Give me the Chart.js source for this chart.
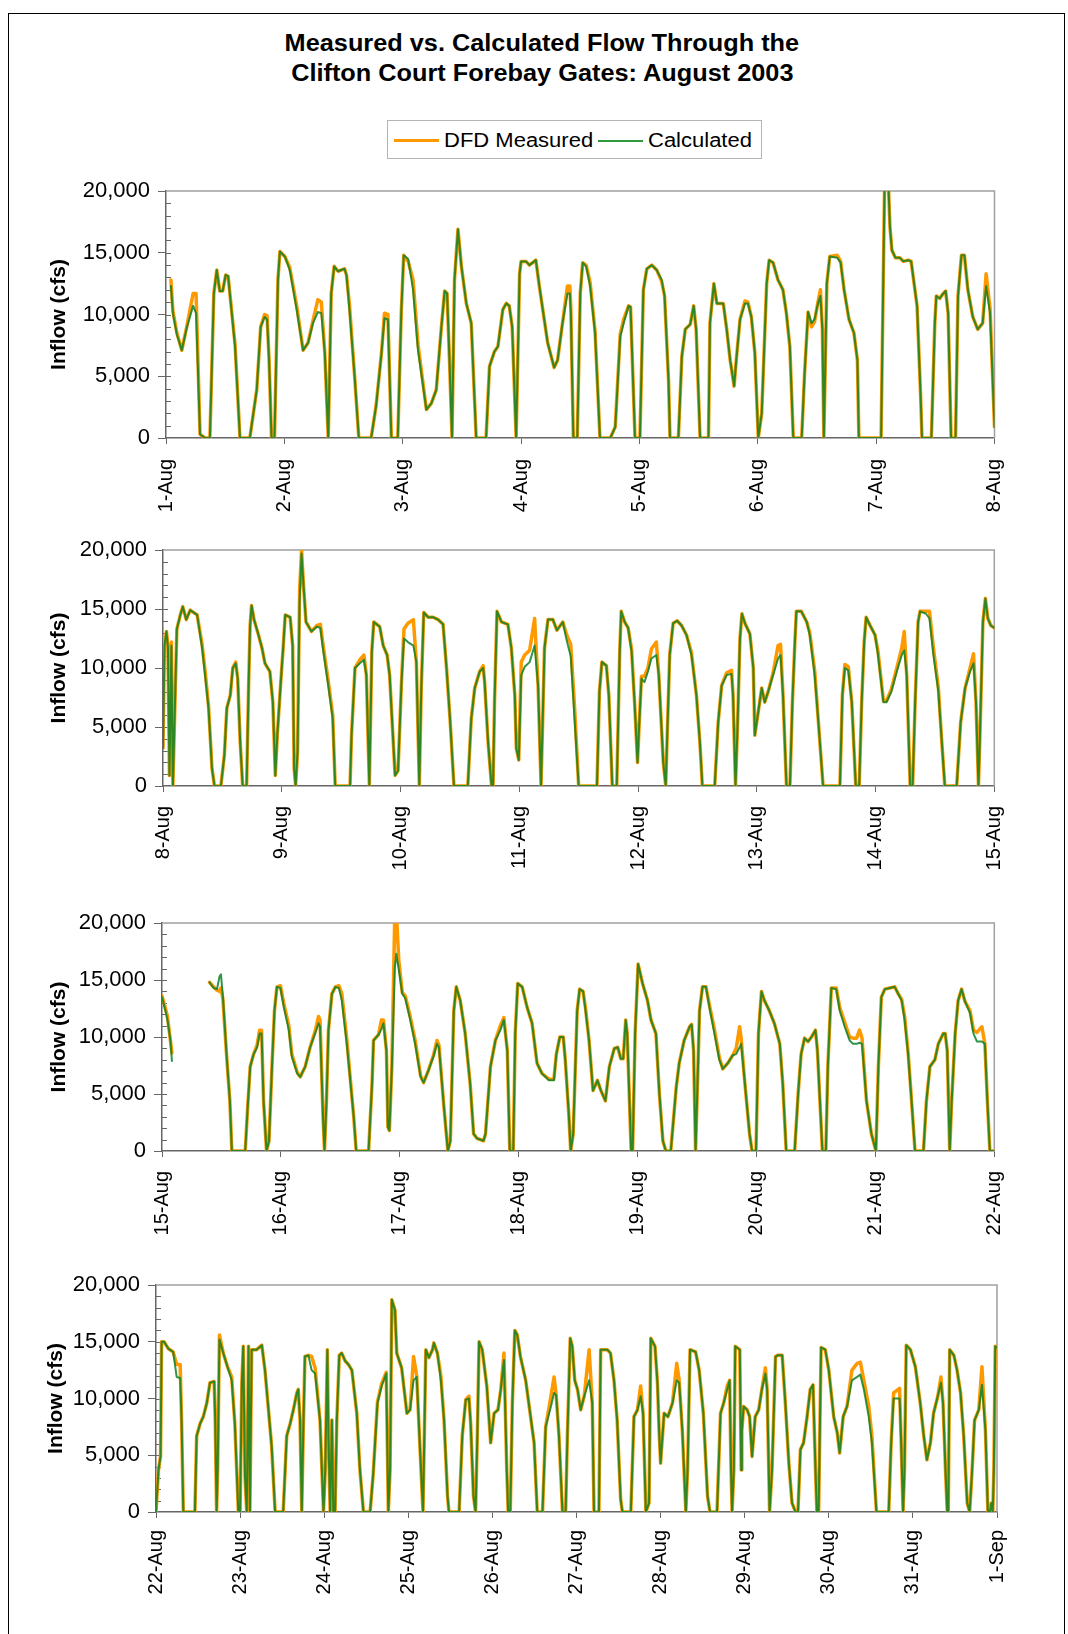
<!DOCTYPE html>
<html>
<head>
<meta charset="utf-8">
<script src="https://cdn.jsdelivr.net/npm/chart.js@4.4.0/dist/chart.umd.min.js"></script>
<style>
  html, body { margin: 0; padding: 0; background: #fff; }
  body { width: 1068px; height: 1634px; position: relative; overflow: hidden; font-family: "Liberation Sans", Arial, sans-serif; }
  .frame { position: absolute; left: 8px; top: 13px; width: 1055px; height: 1640px; border: 1px solid #000; }
  .title { position: absolute; left: 0; width: 1084px; top: 28px; text-align: center; font-weight: bold; font-size: 23px; line-height: 30px; color: #000; }
  .title span { display: inline-block; transform: scaleX(1.1); transform-origin: center; }
  .legend { position: absolute; left: 387px; top: 120px; width: 373px; height: 37px; border: 1px solid #b4b4b4; }
  .legend .sw { position: absolute; top: 18px; height: 3px; }
  .legend .tx { position: absolute; top: 7px; font-size: 20px; line-height: 24px; color: #000; transform: scaleX(1.1); transform-origin: left center; white-space: nowrap; }
  .panel { position: absolute; left: 0; }
</style>
</head>
<body>
<div class="frame"></div>
<div class="title"><span>Measured vs. Calculated Flow Through the</span><br><span>Clifton Court Forebay Gates: August 2003</span></div>
<div class="legend">
  <span class="sw" style="left:6px;width:45px;background:#ff9900"></span><span class="tx" style="left:56px">DFD Measured</span>
  <span class="sw" style="left:210px;width:45px;height:2px;top:19px;background:#2e9a3e"></span><span class="tx" style="left:260px">Calculated</span>
</div>
<canvas id="p1" class="panel" width="1068" height="340" style="top:180px"></canvas>
<canvas id="p2" class="panel" width="1068" height="340" style="top:535px"></canvas>
<canvas id="p3" class="panel" width="1068" height="340" style="top:905px"></canvas>
<canvas id="p4" class="panel" width="1068" height="340" style="top:1270px"></canvas>
<script>
// ---- data: hours after midnight of the first day of each panel, flow in cfs ----
const days1 = ['1-Aug','2-Aug','3-Aug','4-Aug','5-Aug','6-Aug','7-Aug','8-Aug'];
const days2 = ['8-Aug','9-Aug','10-Aug','11-Aug','12-Aug','13-Aug','14-Aug','15-Aug'];
const days3 = ['15-Aug','16-Aug','17-Aug','18-Aug','19-Aug','20-Aug','21-Aug','22-Aug'];
const days4 = ['22-Aug','23-Aug','24-Aug','25-Aug','26-Aug','27-Aug','28-Aug','29-Aug','30-Aug','31-Aug','1-Sep'];

const p1Hours = [1,1.4,2.2,3.2,4.2,5.5,6.1,6.9,7.9,8.9,
  9.7,10.3,10.9,11.5,12.1,12.6,14,15,17,18.4,
  19.2,20,20.5,20.9,21.4,22,22.7,23.1,24.1,25.1,
  26.5,27.8,28.8,29.8,30.8,31.5,32.2,32.9,33.5,34.1,
  34.9,35.5,36.2,36.6,37.2,38.3,39.1,41.6,42.6,43.7,
  44.3,45,45.7,47,47.7,48.2,49.1,50.1,51.1,52.8,
  53.8,54.8,55.8,56.5,57,57.5,58,58.5,59.2,59.9,
  60.9,61.9,62.9,64.9,65.6,66.6,67.3,68.3,69,69.6,
  70.2,71,71.7,72,73,73.7,75,75.7,77.4,78.7,
  79.4,80.4,81.4,81.9,82.1,82.6,83.4,84,84.5,85.2,
  86,87,88,90.1,91.1,92.1,92.8,93.8,94.2,95.1,
  96.1,96.8,97.5,98.5,99.5,100.5,101.1,101.9,102.2,103.9,
  104.6,105.3,106.3,107,107.5,108.3,110,110.3,111.1,111.7,
  113,113.7,114.4,115.2,115.7,116.4,117.4,118,118.7,119.4,
  120.1,120.8,121.8,122.3,123.1,124.1,125.1,125.8,126.5,127.2,
  128.9,129.5,130.2,130.9,131.5,132.2,132.7,133.1,133.4,134,
  134.6,136.1,136.8,137.5,138.5,139.5,140.2,140.5,145,145.8,
  146.4,146.8,147.2,147.9,148.8,149.5,150.5,151.1,152.3,153,
  153.3,155.2,155.9,156.2,156.9,157.4,158.1,158.6,159.2,160.1,
  160.6,161.3,161.9,162.6,163.6,164.6,165.6,166.3,167.1,168];
const p1Calc = [12300,10100,8400,7100,8900,10700,10100,300,0,0,
  11700,13600,11900,11900,13200,13100,7400,0,0,3900,
  9000,9800,9600,6300,0,0,12800,15100,14700,13600,
  10400,7100,7700,9300,10200,10100,6900,0,11700,13900,
  13500,13600,13700,13200,10400,4700,0,0,2600,6900,
  9700,9600,0,0,10100,14800,14500,12000,7100,2300,
  2800,3900,8800,11900,11700,6100,0,12800,16900,13900,
  10900,9300,0,0,5800,7000,7400,10400,10900,10700,
  9000,0,13300,14300,14300,14000,14400,12300,7700,5700,
  6300,9300,11700,11700,10100,0,0,11700,14200,13900,
  12300,8500,0,0,900,8200,9300,10700,10600,0,
  0,12000,13700,14000,13600,12800,11500,4700,0,0,
  6600,8800,9200,10700,8800,0,0,9300,12500,10900,
  10900,8800,6300,4200,6600,9600,10900,10900,9800,6900,
  0,2000,12500,14400,14200,12800,12000,10100,7400,0,
  0,5300,10200,9300,9600,10900,11500,8800,0,12500,
  14700,14600,14200,12000,9600,8500,6300,0,0,23000,
  21500,17100,15200,14600,14600,14300,14400,14300,10700,3600,
  0,0,9300,11500,11300,11600,11900,10100,0,0,
  11500,14800,14800,12000,9800,8800,9300,12300,10100,900];
const p1Meas = [12800,10300,8500,7100,9000,11700,11700,300,0,0,
  11700,13600,11900,11900,13200,13100,7600,0,0,3900,
  9000,10000,9900,6300,0,0,12800,15100,14700,13800,
  10700,7100,7700,9500,11200,11000,6900,0,11700,13900,
  13500,13600,13700,13200,10800,4700,0,0,2600,6900,
  10100,10000,0,0,10100,14800,14300,12800,7600,2300,
  2800,3900,8800,11900,11700,6100,0,12800,16900,13900,
  10900,9300,0,0,5800,7000,7400,10400,10900,10700,
  9000,0,13300,14300,14300,14000,14400,12300,7700,5700,
  6300,9300,12300,12300,10400,0,0,11700,14200,14000,
  12600,8700,0,0,900,8400,9600,10700,10600,0,
  0,12000,13700,14000,13600,12700,11500,4700,0,0,
  6600,8800,9200,10700,8800,0,0,9300,12500,10900,
  10900,8800,6300,4200,6600,9600,11100,11000,9800,6900,
  0,2000,12500,14400,14200,12800,12000,10100,7400,0,
  0,5300,10200,9000,9400,11000,12000,8800,0,12500,
  14700,14800,14300,12000,9600,8500,6300,0,0,23000,
  21500,17100,15200,14600,14600,14300,14400,14300,10700,3600,
  0,0,9300,11500,11300,11600,11900,10100,0,0,
  11500,14800,14800,12000,9800,8800,9300,13300,10500,900];

const p2Hours = [0,0.3,0.7,1,1.3,1.7,2,2.8,3.5,4,
  4.7,5.5,6.9,7.9,8.5,9.2,9.9,10.4,11.7,12.4,
  12.9,13.6,14.1,14.7,15.1,15.6,16.1,16.9,17.3,17.6,
  17.9,18.4,19.3,20,20.6,21.6,22.2,22.7,23.1,23.8,
  24.3,24.7,25.7,26.2,26.5,26.8,27.2,27.6,28,28.4,
  28.9,30,31.1,31.8,32.4,33.4,34.3,34.8,37.8,38.1,
  38.8,39.8,40.6,41.1,41.7,42.2,42.6,43.8,44.5,45.3,
  45.8,46.9,47.5,48.2,48.7,49.5,50.6,51.2,51.8,52.2,
  52.7,53.6,54.6,55.6,56.6,57.3,58,58.8,61.6,62.3,
  63,64,64.7,65,65.7,66.4,66.7,67,67.5,68.4,
  69.7,70.4,71.1,71.4,71.9,72.4,73.1,74.1,75.1,75.8,
  76.4,77.1,77.8,78.8,79.6,80.8,81.6,82.4,83.2,84,
  87.7,88.2,88.7,89.6,90.1,90.8,91.7,92.3,92.6,93.3,
  94,94.7,95.3,95.9,96.2,96.7,97.3,98,98.7,99.7,
  100.2,101.1,101.6,101.9,102.4,103.1,103.9,104.8,105.8,106.8,
  107.8,108.5,109,111.5,112.2,112.9,113.9,114.9,115.2,115.7,
  116.1,116.6,117,117.6,118.6,119.3,119.6,120.3,121,121.3,
  121.6,122.3,123.3,124.3,124.8,125.3,126,126.7,127.2,127.7,
  128,129,130.1,130.7,131.7,132.4,133.4,136.8,137.3,137.8,
  138.5,139.2,140,140.7,141.2,141.7,142.1,142.9,143.9,144.5,
  145.6,146.2,147.2,148.3,149.3,149.8,150.3,151,151.5,152,
  152.6,153,154.2,154.9,155.7,156.7,157.4,158,160.4,161.2,
  162.1,163.1,163.8,164.3,164.8,165.1,165.7,166.2,166.7,167.3,168];
const p2Calc = [3200,11900,13100,11700,900,11900,0,13300,14500,15200,
  14100,14900,14500,11700,9400,6600,1500,0,0,2600,
  6600,7700,10000,10400,9100,3700,0,0,8500,13600,
  15300,14100,12800,11700,10400,9700,7100,900,4300,8800,
  11800,14500,14300,11900,1500,0,2900,15600,19700,17000,
  13900,13100,13500,13400,11400,8500,5700,0,0,4300,
  10000,10400,10700,9400,0,11400,13900,13500,11900,11100,
  9400,900,1300,8800,12500,12200,11900,10500,0,8300,
  14700,14300,14300,14100,13700,10000,5700,0,0,5700,
  8300,9700,10000,8800,3700,0,0,7100,14800,13900,
  13700,11700,7700,3200,2200,9400,10100,10500,11900,8500,
  0,11700,14100,14100,13200,13900,12300,11000,5500,0,
  0,8000,10500,10200,7700,0,0,11400,14800,13900,
  13400,11400,7100,2000,4900,9100,8800,9700,10800,11100,
  9400,2000,0,4300,11100,13800,14000,13600,12800,11100,
  7700,3700,0,0,5400,8500,9400,9500,7700,0,
  4900,12500,14600,13800,12900,10000,4300,6300,8300,7700,
  7100,8000,9400,10800,11100,7700,0,0,7100,12200,
  14800,14800,13900,12800,9400,5700,0,0,7700,10000,
  9800,7100,0,0,7100,12200,14300,13600,12800,11100,
  7100,7100,8000,9700,11100,11500,9400,0,0,7100,
  13900,14800,14600,14200,11100,8000,3700,0,0,5400,
  8300,9700,10400,7100,0,4300,13900,15900,14200,13600,13400];
const p2Meas = [3200,12000,13100,11900,900,12200,0,13300,14500,15200,
  14100,14900,14500,12000,9800,6800,1500,0,0,2600,
  6600,7700,10000,10500,9100,3700,0,0,8500,13600,
  15300,14100,12800,11700,10400,9700,7100,900,4300,8800,
  11800,14500,14300,11900,1500,0,2900,16500,20000,17000,
  13900,13100,13600,13700,11800,8900,6000,0,0,4300,
  10000,10700,11100,9400,0,11400,13900,13500,11900,11100,
  9400,900,1300,8800,13300,13800,14100,10500,0,8300,
  14700,14300,14300,14100,13700,10000,5700,0,0,5700,
  8300,9700,10200,8800,3700,0,0,7100,14800,13900,
  13700,11700,7700,3200,2200,10500,11100,11500,14200,8500,
  0,11700,14100,14100,13200,13900,12800,12000,6500,0,
  0,8000,10500,10200,7700,0,0,11400,14800,13900,
  13400,11600,7100,2000,4900,9300,9300,10000,11600,12200,
  9400,2000,0,4300,11100,13800,14000,13600,12800,11300,
  7700,3700,0,0,5400,8500,9600,9800,7700,0,
  4900,12500,14600,13800,12900,10000,4300,6300,8300,7700,
  7100,8000,9600,11900,12000,7700,0,0,7100,12200,
  14800,14800,13900,13000,9800,5700,0,0,7700,10300,
  10100,7100,0,0,7100,12200,14300,13600,12800,11400,
  7200,7200,8200,10000,11700,13100,9400,0,0,7100,
  13900,14800,14800,14800,11700,8300,3700,0,0,5400,
  8300,10000,11200,7100,0,4300,13900,15900,14200,13600,13400];

const p3Hours = [0,0.7,1.1,1.7,2,2.5,9.6,10.4,11.1,11.6,
  11.9,12.3,13.1,13.7,14.1,16.8,17.3,17.8,18.5,19.2,
  19.7,20.1,20.5,21.1,21.6,22.2,22.7,23.2,23.9,24.6,
  25.6,26.2,27.3,27.9,28.9,29.9,30.9,31.6,31.9,32.5,
  32.8,33.2,33.6,34.3,35,35.7,36.3,37.3,38,38.7,
  39.2,41.7,42.4,42.7,43.7,44.3,44.7,45.3,45.6,45.9,
  46.4,47,47.3,47.8,48.5,49.1,50.1,51.1,52.2,52.8,
  53.8,54.8,55.5,55.9,56.9,57.7,58.2,58.9,59.4,60.2,
  61.2,62.2,62.9,63.6,64.9,65.3,66.3,67.3,68.3,69,
  69.7,70.2,70.9,71.3,71.8,72.7,73.7,74.7,75.7,76.7,
  78.1,79.1,79.6,80.3,81,81.4,82.1,82.5,83,83.8,
  84.3,85,85.5,86.2,87,87.9,88.6,89.5,90.3,91.3,
  92,92.6,93.1,93.6,93.9,94.7,95,95.5,96.1,97,
  98,98.7,99.7,100.4,101.1,101.7,102.7,103.8,104.4,105.4,
  106.5,106.9,107.3,107.7,108,108.5,109.1,109.8,110.5,111.5,
  112.5,113.2,114.2,115.2,115.9,116.6,116.9,117.6,118.6,119.1,
  119.9,120.4,121,121.6,122.6,123.6,124.7,125.3,126,127.7,
  128.4,129,129.7,130.4,131.1,131.9,132.3,132.8,133.3,134,
  134.4,134.9,135.1,136.1,136.8,137.8,138.8,139.5,140.2,140.8,
  141.3,142.2,143.2,144.1,144.6,145.2,145.9,146.9,147.9,148.6,
  149.3,149.9,150.6,151.3,152,153.7,154.3,155,156,156.7,
  157.7,158.1,158.5,159,159.4,160.1,160.7,161.4,162.1,163.1,
  163.8,164.5,165.5,166.1,166.6,167.1,168];
const p3Calc = [13500,12300,11500,9700,7900,null,14800,14300,14200,15300,
  15500,13500,8000,4400,0,0,3900,7400,8500,9100,
  10300,10300,4400,0,900,7400,12300,14400,14300,12600,
  10600,8300,6800,6500,7400,9100,10300,11200,10900,3000,
  0,4400,10600,13800,14400,14300,13200,9400,6200,3000,
  0,0,5900,9700,10200,10700,11200,8800,2100,1800,
  7400,16100,17300,15900,13800,13400,11500,9400,6500,6000,
  7100,8300,9400,9100,3900,0,900,12300,14400,13200,
  10300,5900,1500,1100,900,1500,7400,9700,10600,11500,
  8800,0,0,10300,14700,14400,12600,11200,7700,6800,
  6200,6200,8500,10000,10000,8000,3300,0,1500,12300,
  14200,14000,12300,9700,5300,6200,5300,4400,7400,9000,
  9100,8100,8100,11500,10300,0,0,10300,16400,14700,
  13200,11500,10300,5000,900,0,0,5600,7700,9700,
  10900,11100,8800,0,4400,12300,14400,14400,12600,10300,
  8000,7200,7700,8400,8500,9100,9400,6200,1500,0,
  0,10300,14000,13200,12300,11200,9400,5900,0,0,
  5000,8500,9900,9600,10000,10600,8800,4400,0,0,
  7400,12300,14300,14200,12300,10900,9700,9400,9400,9500,
  9400,4400,1500,0,7400,13500,14200,14300,14400,13800,
  13200,11500,8500,4400,0,0,4400,7400,8000,9400,
  10300,10300,8800,0,4400,10300,13200,14200,13100,12100,
  10300,9600,9600,9400,4400,0,0];
const p3Meas = [13600,12500,11800,9700,8600,null,14800,14400,14100,14000,
  14300,13300,8000,4400,0,0,3900,7400,8500,9300,
  10600,10600,4400,0,900,7400,12300,14400,14500,12900,
  11000,8500,6900,6500,7400,9100,10500,11800,11500,3000,
  0,4400,10600,13800,14400,14500,13800,9800,6400,3000,
  0,0,5900,9700,10200,11500,11500,8800,2100,1800,
  7400,21000,21000,16700,13900,13600,11800,9700,6600,6000,
  7100,8400,9700,9300,3900,0,900,12300,14400,13200,
  10300,5900,1500,1100,900,1500,7400,9700,11000,11700,
  8800,0,0,10300,14700,14400,12600,11200,7700,6800,
  6300,6300,8500,10000,10000,8000,3300,0,1500,12300,
  14200,14000,12500,9700,5300,6200,5300,4400,7400,9000,
  9100,8100,8100,11500,10300,0,0,10300,16400,14700,
  13200,11500,10300,5000,900,0,0,5600,7700,9700,
  10900,11100,8800,0,4400,12300,14400,14400,12800,10700,
  8200,7200,7700,8400,9000,10900,9900,6200,1500,0,
  0,10300,14000,13200,12300,11200,9400,5900,0,0,
  5000,8500,9900,9600,10000,10600,8800,4400,0,0,
  7400,12300,14300,14300,12600,11300,10000,9900,9900,10600,
  9900,4400,1500,0,7400,13500,14200,14300,14400,13800,
  13300,11800,8700,4400,0,0,4400,7400,8000,9400,
  10300,10300,8800,0,4400,10300,13200,14200,13100,12300,
  10600,10400,10900,9400,4400,0,0];

const p4Hours = [0,0.7,1.3,1.6,2.3,3.5,4.9,5.9,6.9,7.3,
  7.8,11.1,11.6,12.6,13.5,14.5,15.4,16.6,16.9,17.3,
  17.6,18.1,19.2,20.4,21.6,22.5,23.5,24,24.5,24.9,
  25.4,25.9,26.4,26.8,27.3,28.7,30.2,31.1,32.1,33,
  34,36.3,37.3,38.3,39.2,40.2,40.6,41.1,41.6,42,
  42.5,43.5,44.4,45.4,46.8,47.8,48.3,48.9,49.2,49.7,
  50.2,50.6,51.1,51.6,52.3,53,54,54.9,55.9,57.3,
  58.2,59.2,61.1,62,63.2,64.4,65.7,66.3,66.8,67.3,
  68.2,68.7,70.1,71.6,72.5,73.5,74.4,75.4,76.2,77,
  77.9,78.9,79.3,80.3,81.3,82.2,83.2,83.6,86.5,87.4,
  88.4,89.3,89.8,90.6,91.2,91.7,92.2,93.1,94.4,95.5,
  96.5,97.6,98.4,99.3,100.1,100.5,101.1,101.7,102.4,103.1,
  104,105.5,106.9,107.9,108.8,110.3,111.2,112.7,113.6,114.2,
  115,116,116.9,117.4,118.2,118.8,119.5,120.3,121.2,122.2,
  123.6,124.5,125,126.4,126.9,128.8,129.7,130.7,131.6,132.6,
  133.1,135.5,136.4,137.4,138.3,139,139.8,140.7,141.2,142.4,
  143.1,143.6,144,145,146.1,147.4,148.6,149.3,150.2,151.2,
  151.7,152.4,154,155,156.2,157.4,158.1,160.1,161.1,162,
  163,163.7,164.1,164.4,164.9,165.3,166.6,167,167.2,167.7,
  168.7,169.4,170.1,171,172,172.9,173.9,174.4,175.1,175.8,
  176.8,177.4,178.7,179.6,180.6,181.5,182.5,183.2,183.9,184.8,
  185.8,186.7,187.5,188.2,188.6,189.1,189.8,191,192,193.4,
  194.4,195.1,196.1,197.2,198.6,200.1,201,202,203.4,204.3,
  205.6,209.1,209.8,210.5,212.2,212.6,213.2,213.6,214.1,215.3,
  216.7,218.1,219.1,220,221,221.9,223.1,224,224.6,225.3,
  225.8,226.1,226.5,227.7,228.6,229.6,230.5,231.5,232.2,232.9,
  233.6,234.8,235.7,236.7,237.4,238,238.4,238.8,239.1,239.5,
  240];
const p4Calc = [0,3700,4900,15000,15000,14400,14100,11900,11800,8100,
  0,0,6700,7800,8400,9600,11400,11500,8100,0,
  3700,15200,14000,12800,11600,7800,0,0,11400,14600,
  3100,0,14600,0,14300,14300,14700,12500,9000,5800,
  0,0,6700,7800,9000,10500,10800,8100,0,6700,
  13700,13800,12500,12200,8100,0,3700,14300,6700,0,
  8100,0,0,8100,13800,14000,13300,13000,12500,8700,
  3700,0,0,3400,9600,11100,12200,0,3700,18700,
  17800,14000,12700,8700,9000,11600,11900,5200,0,14300,
  13600,14300,14900,14000,11600,8100,1400,0,0,6700,
  9900,10000,7800,1400,0,6700,15000,14300,11100,6100,
  8700,9000,10800,13400,3700,0,0,9600,16000,15600,
  13700,11600,8400,6100,0,0,7500,9300,10500,10300,
  6700,0,0,6700,15300,14600,11600,10800,9000,10200,
  11600,9600,0,0,14300,14300,14000,11600,8100,1100,
  0,0,8400,9000,10200,8700,0,800,15300,14600,
  11400,6900,4300,8700,8400,9600,11600,11400,7200,0,
  3700,14300,14100,12500,8700,1400,0,0,8700,9600,
  10800,11600,3700,0,3700,14600,14300,3700,7200,9300,
  9000,8400,4900,8400,9000,10800,12200,10800,0,3700,
  13700,13800,13800,9600,4300,800,0,0,5500,6100,
  8400,10800,11200,3700,0,0,14500,14300,12500,8400,
  7000,5200,8400,9300,11600,11900,12100,10800,8400,6100,
  0,0,6100,10000,10000,6700,0,3700,14700,14300,
  12800,9600,6700,4600,6100,8700,10200,11400,9600,3700,
  0,0,14300,13800,12500,10500,6700,800,0,3700,
  8100,9000,11200,7200,0,0,800,0,3700,14600,
  14500];
const p4Meas = [0,3700,4900,15000,15000,14400,14100,13000,13000,8100,
  0,0,6700,7800,8400,9600,11400,11500,8100,0,
  3700,15600,14000,12800,11900,7800,0,0,11400,14600,
  3100,0,14600,0,14300,14300,14700,12500,9000,5800,
  0,0,6700,7800,9000,10500,10800,8100,0,6700,
  13700,13800,13700,12700,8100,0,3700,14300,6700,0,
  8100,0,0,8100,13800,14000,13300,13000,12500,8700,
  3700,0,0,3400,9700,11300,12300,0,3700,18700,
  17800,14000,12700,8700,9000,13700,12000,5200,0,14300,
  13600,14300,14900,14000,12000,8100,1400,0,0,6700,
  9900,10200,7800,1400,0,6700,15000,14300,11100,6100,
  8700,9000,10800,14000,3700,0,0,9600,16000,15600,
  13700,11600,8400,6100,0,0,7500,10200,11900,10300,
  6700,0,0,6700,15300,14600,11600,10800,9000,10200,
  14300,9600,0,0,14300,14300,14000,11600,8100,1100,
  0,0,8400,9000,11100,8700,0,800,15300,14600,
  11400,6900,4300,8700,8400,9600,13100,11600,7200,0,
  3700,14300,14100,12500,8700,1400,0,0,8700,9600,
  11100,11600,3700,0,3700,14600,14300,3700,7200,9300,
  9000,8400,4900,8400,9000,10800,12700,10800,0,3700,
  13700,13800,13800,9600,4300,800,0,0,5500,6100,
  8400,10800,11200,3700,0,0,14500,14300,12500,8400,
  7000,5200,8400,9300,12500,13100,13200,11600,9300,6700,
  0,0,6100,10500,10900,6700,0,3700,14700,14300,
  12800,9600,6700,4600,6100,8700,10200,11900,9600,3700,
  0,0,14300,13800,12500,10500,6700,800,0,3700,
  8100,9000,12800,7200,0,0,800,0,3700,14600,
  14500];

// ---- drawing ----
Chart.defaults.font.family = '"Liberation Sans", Arial, sans-serif';
Chart.defaults.color = '#000';

// light grey top/right plot border plus small inside minor ticks on the y axis
const framePlugin = {
    id: 'frame',
    beforeDatasetsDraw(chart) {
        const ctx = chart.ctx, a = chart.chartArea, y = chart.scales.y;
        ctx.save();
        ctx.strokeStyle = '#a0a0a0';
        ctx.lineWidth = 1.5;
        ctx.beginPath();
        ctx.moveTo(a.left, a.top);
        ctx.lineTo(a.right, a.top);
        ctx.lineTo(a.right, a.bottom);
        ctx.stroke();
        ctx.strokeStyle = '#666';
        ctx.lineWidth = 1;
        for (let v = 1000; v < 20000; v += 1000) {
            const py = Math.round(y.getPixelForValue(v)) + 0.5;
            ctx.beginPath();
            ctx.moveTo(a.left, py);
            ctx.lineTo(a.left + 5, py);
            ctx.stroke();
        }
        ctx.restore();
    }
};

function drawPanel(id, box, hours, meas, calc, days) {
    const el = document.getElementById(id);
    const toPts = vals => hours.map((h, i) => ({ x: h, y: vals[i] }));
    new Chart(el, {
        type: 'line',
        data: {
            datasets: [
                { label: 'DFD Measured', data: toPts(meas), borderColor: '#ff9900', borderWidth: 3.5, order: 2 },
                { label: 'Calculated', data: toPts(calc), borderColor: 'rgba(10,130,40,0.85)', borderWidth: 2, order: 1 }
            ]
        },
        options: {
            responsive: false,
            animation: false,
            devicePixelRatio: 1,
            elements: {
                point: { radius: 0 },
                line: { tension: 0, fill: false, borderJoinStyle: 'round', borderCapStyle: 'round' }
            },
            layout: { padding: { top: box.top - box.canvasTop, right: 1068 - box.right, left: 0, bottom: 0 } },
            plugins: { legend: { display: false }, tooltip: { enabled: false } },
            scales: {
                x: {
                    type: 'linear', min: 0, max: (days.length - 1) * 24,
                    afterFit: s => {
                        s.height = box.canvasTop + 340 - box.bottom;
                        s.paddingLeft = 0; s.paddingRight = 0;
                    },
                    ticks: {
                        stepSize: 24, autoSkip: false, maxTicksLimit: 20,
                        maxRotation: 90, minRotation: 90, padding: box.labelGap,
                        font: { size: 20 },
                        callback: v => days[Math.round(v / 24)]
                    },
                    grid: { drawOnChartArea: false, tickLength: 6, color: '#666' },
                    border: { color: '#666', width: 1.5 }
                },
                y: {
                    min: 0, max: 20000,
                    afterFit: s => {
                        s.width = box.left;
                        s.paddingTop = 0; s.paddingBottom = 0;
                    },
                    ticks: {
                        stepSize: 5000, padding: 8, font: { size: 22 },
                        callback: v => v.toLocaleString('en-US')
                    },
                    grid: { drawOnChartArea: false, tickLength: 8, color: '#666' },
                    border: { color: '#666', width: 1.5 },
                    title: {
                        display: true, text: 'Inflow (cfs)',
                        font: { size: 21, weight: 'bold' },
                        padding: { top: box.titleGap, bottom: 0 }
                    }
                }
            }
        },
        plugins: [framePlugin]
    });
}

drawPanel('p1', { canvasTop: 180, top: 191, bottom: 438, left: 166, right: 994.5, titleGap: 47, labelGap: 15 }, p1Hours, p1Meas, p1Calc, days1);
drawPanel('p2', { canvasTop: 535, top: 550, bottom: 786, left: 163, right: 994.3, titleGap: 47, labelGap: 14 }, p2Hours, p2Meas, p2Calc, days2);
drawPanel('p3', { canvasTop: 905, top: 923, bottom: 1151, left: 162, right: 994.3, titleGap: 47, labelGap: 14 }, p3Hours, p3Meas, p3Calc, days3);
drawPanel('p4', { canvasTop: 1270, top: 1285, bottom: 1512, left: 156, right: 997, titleGap: 44, labelGap: 12 }, p4Hours, p4Meas, p4Calc, days4);
</script>
</body>
</html>
